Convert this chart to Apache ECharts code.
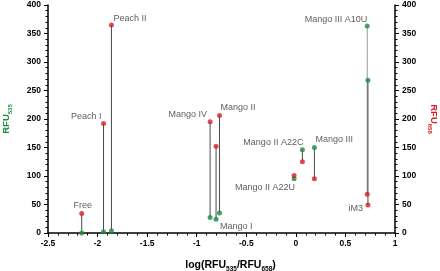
<!DOCTYPE html>
<html>
<head>
<meta charset="utf-8">
<script src="https://cdn.jsdelivr.net/npm/echarts@6/dist/echarts.min.js"></script>
<style>
  html, body { margin: 0; padding: 0; background: #fff; }
  #chart { width: 440px; height: 271px; }
</style>
</head>
<body>
<div id="chart"></div>
<script>
// sample names, x = log(RFU535/RFU658), green = RFU535, red = RFU658
var names = ['Free', 'Peach I', 'Peach II', 'Mango IV', 'Mango I', 'Mango II',
  'Mango II A22U', 'Mango II A22C', 'Mango III', 'Mango III A10U', 'iM3'];
var logRatio = [-2.16, -1.94, -1.86, -0.865, -0.805, -0.77, -0.018, 0.066, 0.187, 0.72, 0.727];
var rfu535 = [0, 2, 4, 27, 24, 35, 95, 146, 150, 363, 268];
var rfu658 = [34, 192, 365, 195, 152, 206, 101, 125, 95, 68, 49];

// which dot the name sits next to, and where
var labelAt = ['r', 'r', 'r', 'r', 'g', 'r', 'g', 'g', 'g', 'g', 'r'];
var labelPos = [
  [1, -4, 'center', 'bottom'],
  [-2, -7, 'right', 'middle'],
  [2, -6, 'left', 'middle'],
  [-3, -7, 'right', 'middle'],
  [4, 7, 'left', 'middle'],
  [1, -8, 'left', 'middle'],
  [1, 9, 'right', 'middle'],
  [1, -7, 'right', 'middle'],
  [1, -8, 'left', 'middle'],
  [0, -7, 'right', 'middle'],
  [-5, 3, 'right', 'middle']
];

var GREEN = '#1b8c3b';
var RED = '#d81e26';

var stemData = names.map(function (n, i) { return [logRatio[i], rfu535[i], rfu658[i]]; });
var greenData = names.map(function (n, i) { return [logRatio[i], rfu535[i]]; });
var redData = names.map(function (n, i) { return [logRatio[i], rfu658[i]]; });
var labelData = names.map(function (n, i) {
  var p = labelPos[i];
  return {
    name: n,
    value: [logRatio[i], labelAt[i] === 'g' ? rfu535[i] : rfu658[i]],
    label: { position: [p[0], p[1]], align: p[2], verticalAlign: p[3] }
  };
});

var tickLabel = { color: '#000', fontWeight: 'bold', fontSize: 8.5, fontFamily: 'Liberation Sans' };

var myChart = echarts.init(document.getElementById('chart'));
var option = {
  animation: false,
  grid: { left: 48, right: 45, top: 5, bottom: 38, outerBoundsMode: 'none', containLabel: false },
  xAxis: {
    type: 'value', min: -2.5, max: 1, interval: 0.5,
    axisLine: { onZero: false, lineStyle: { color: '#000', width: 1.5 } },
    axisTick: { show: true, length: 4, lineStyle: { color: '#000' } },
    minorTick: { show: true, splitNumber: 5, length: 2.5, lineStyle: { color: '#000' } },
    splitLine: { show: false },
    axisLabel: Object.assign({ margin: 6 }, tickLabel),
    name: 'log(RFU{s|535}/RFU{s|658})',
    nameLocation: 'middle',
    nameGap: 24,
    nameTextStyle: {
      color: '#000', fontWeight: 'bold', fontSize: 10.5, fontFamily: 'Liberation Sans',
      padding: [0, 0, 0, 18],
      rich: { s: { fontSize: 6.5, fontWeight: 'bold', padding: [9, 0, 0, 0], fontFamily: 'Liberation Sans' } }
    }
  },
  yAxis: [
    {
      type: 'value', min: 0, max: 400, interval: 50, position: 'left',
      axisLine: { show: true, onZero: false, lineStyle: { color: '#000', width: 1.5 } },
      axisTick: { show: true, length: 4, lineStyle: { color: '#000' } },
      minorTick: { show: true, splitNumber: 5, length: 2.5, lineStyle: { color: '#000' } },
      splitLine: { show: false },
      axisLabel: Object.assign({ margin: 7 }, tickLabel),
      name: 'RFU{s|535}',
      nameLocation: 'middle',
      nameGap: 35,
      nameTextStyle: {
        color: GREEN, fontWeight: 'bold', fontSize: 9.5, fontFamily: 'Liberation Sans',
        rich: { s: { color: GREEN, fontSize: 6, fontWeight: 'bold', padding: [8, 0, 0, 0], fontFamily: 'Liberation Sans' } }
      }
    },
    {
      type: 'value', min: 0, max: 400, interval: 50, position: 'right',
      axisLine: { show: true, onZero: false, lineStyle: { color: '#000', width: 1.5 } },
      axisTick: { show: true, length: 4, lineStyle: { color: '#000' } },
      minorTick: { show: true, splitNumber: 5, length: 2.5, lineStyle: { color: '#000' } },
      splitLine: { show: false },
      axisLabel: Object.assign({ margin: 7 }, tickLabel),
      name: 'RFU{s|658}',
      nameLocation: 'middle',
      nameRotate: -90,
      nameGap: 32,
      nameTextStyle: {
        color: RED, fontWeight: 'bold', fontSize: 9.5, fontFamily: 'Liberation Sans',
        rich: { s: { color: RED, fontSize: 6, fontWeight: 'bold', padding: [8, 0, 0, 0], fontFamily: 'Liberation Sans' } }
      }
    }
  ],
  series: [
    {
      type: 'custom',
      data: stemData,
      renderItem: function (params, api) {
        var a = api.coord([api.value(0), api.value(1)]);
        var b = api.coord([api.value(0), api.value(2)]);
        var light = names[params.dataIndex] === 'Mango III A10U';
        return {
          type: 'line',
          shape: { x1: a[0], y1: a[1], x2: b[0], y2: b[1] },
          style: { stroke: light ? '#9a9a9a' : '#4a4a4a', lineWidth: 1 }
        };
      },
      z: 1
    },
    {
      type: 'scatter', yAxisIndex: 0, data: greenData,
      symbolSize: 5, itemStyle: { color: GREEN }, z: 3
    },
    {
      type: 'scatter', yAxisIndex: 1, data: redData,
      symbolSize: 5, itemStyle: { color: RED }, z: 3
    },
    {
      type: 'scatter', data: labelData, symbolSize: 0, silent: true, z: 4,
      label: {
        show: true, formatter: '{b}', color: '#333', fontSize: 9, fontFamily: 'Liberation Sans'
      }
    }
  ]
};
myChart.setOption(option);
</script>
</body>
</html>
